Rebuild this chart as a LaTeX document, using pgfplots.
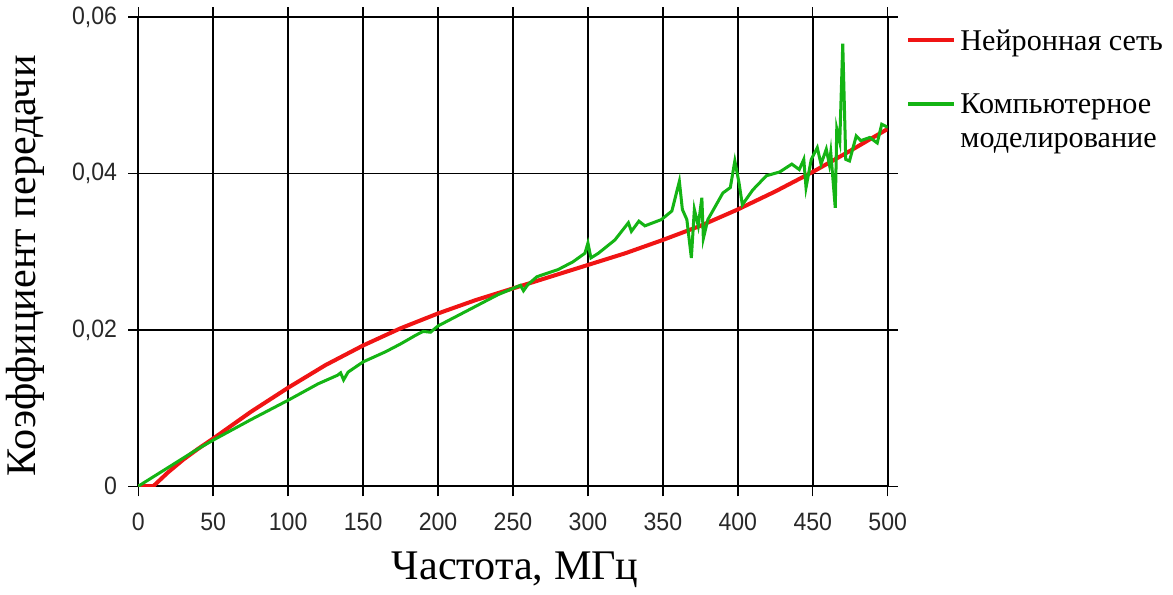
\documentclass[border=0pt]{standalone}
\usepackage{fontspec}
\setmainfont{Liberation Serif}
\newfontfamily\tickfont[FakeStretch=0.92]{Liberation Sans}
\usepackage{pgfplots}
\pgfplotsset{compat=1.18}
\definecolor{nnred}{RGB}{240,20,20}
\definecolor{simgreen}{RGB}{20,180,20}
\definecolor{tickgray}{RGB}{40,40,40}
\begin{document}
\begin{tikzpicture}
\begin{axis}[
  scale only axis,
  width=373pt, height=233.5pt,
  xmin=0, xmax=500, ymin=0, ymax=0.06,
  xtick={0,50,...,500},
  ytick={0,0.02,0.04,0.06},
  yticklabels={0,{0,02},{0,04},{0,06}},
  scaled y ticks=false,
  /pgf/number format/assume math mode=true,
  tick label style={font=\tickfont\fontsize{12.5}{14}\selectfont, text=tickgray},
  xticklabel style={yshift=-5pt},
  yticklabel style={xshift=-2pt},
  tick align=outside,
  major tick length=5pt,
  tick style={black, line width=0.7pt},
  grid=major,
  major grid style={black, line width=0.8pt},
  axis line style={black, line width=0.8pt},
  xlabel={Частота, МГц},
  ylabel={Коэффициент передачи},
  label style={font=\fontsize{21}{24}\selectfont},
  xlabel style={at={(axis description cs:0.503,-0.178)}, anchor=center},
  ylabel style={at={(axis description cs:-0.150,0.47)}, anchor=center},
  legend style={draw=none, fill=none, at={(1,1)}, anchor=north west, xshift=6pt, yshift=-2pt,
    font=\fontsize{15}{17.5}\selectfont, cells={anchor=base west},
    row sep=14pt},
  legend image code/.code={\draw[#1, line width=2pt] (0pt,5pt) -- (23pt,5pt);},
]
\addplot[nnred, line width=2pt] coordinates {
(0,0) (10,0) (20,0.0018) (30,0.0034) (40,0.0048) (50,0.0061) (75,0.0095) (100,0.0126)
(125,0.0155) (150,0.0180) (175,0.0202) (200,0.0221) (225,0.0238) (250,0.0253)
(275,0.0268) (300,0.0283) (325,0.0298) (350,0.0315) (375,0.0333) (400,0.0354)
(425,0.0377) (450,0.0402) (475,0.0429) (500,0.0457)
};
\addlegendentry{Нейронная сеть}
\addplot[simgreen, line width=1.5pt] coordinates {
(0,0) (10,0.0012) (25,0.0030) (40,0.0048) (50,0.0059) (75,0.0085) (100,0.0110)
(120,0.0131) (133,0.0142) (135,0.0145) (137,0.0136) (140,0.0146) (150,0.0159)
(165,0.0172) (175,0.0182) (185,0.0193) (190,0.0198) (195,0.0197) (200,0.0205)
(210,0.0215) (225,0.0230) (240,0.0245) (250,0.0253) (255,0.0257) (257,0.0250)
(260,0.0258) (266,0.0268) (280,0.0277) (290,0.0287) (298,0.0298) (300,0.0311)
(302,0.0292) (307,0.0298) (318,0.0315) (327,0.0337) (329,0.0326) (334,0.0339)
(338,0.0333) (349,0.0341) (356,0.0352) (361,0.0390) (363,0.0354) (366,0.0341)
(369,0.0292) (371,0.0354) (373.6,0.0333) (376,0.0369) (377,0.0317) (380,0.0341)
(385,0.0358) (390,0.0375) (395,0.0382) (398,0.0416) (400.8,0.0388) (403,0.0360)
(410,0.0379) (419,0.0397) (428,0.0402) (436,0.0412) (441,0.0405) (444,0.0418)
(445.5,0.0382) (449,0.0418) (453,0.0433) (455.5,0.0412) (459,0.0431) (461,0.0412)
(462,0.0427) (465,0.0356) (466,0.0457) (468,0.0440) (470,0.0566) (472,0.0418)
(474.5,0.0416) (479,0.0448) (482,0.0442) (488,0.0446) (493,0.0439) (496,0.0463)
(500,0.0459)
};
\addlegendentry{\begin{tabular}[t]{@{}l@{}}Компьютерное\\[-1pt]моделирование\end{tabular}}
\end{axis}
\end{tikzpicture}
\end{document}
